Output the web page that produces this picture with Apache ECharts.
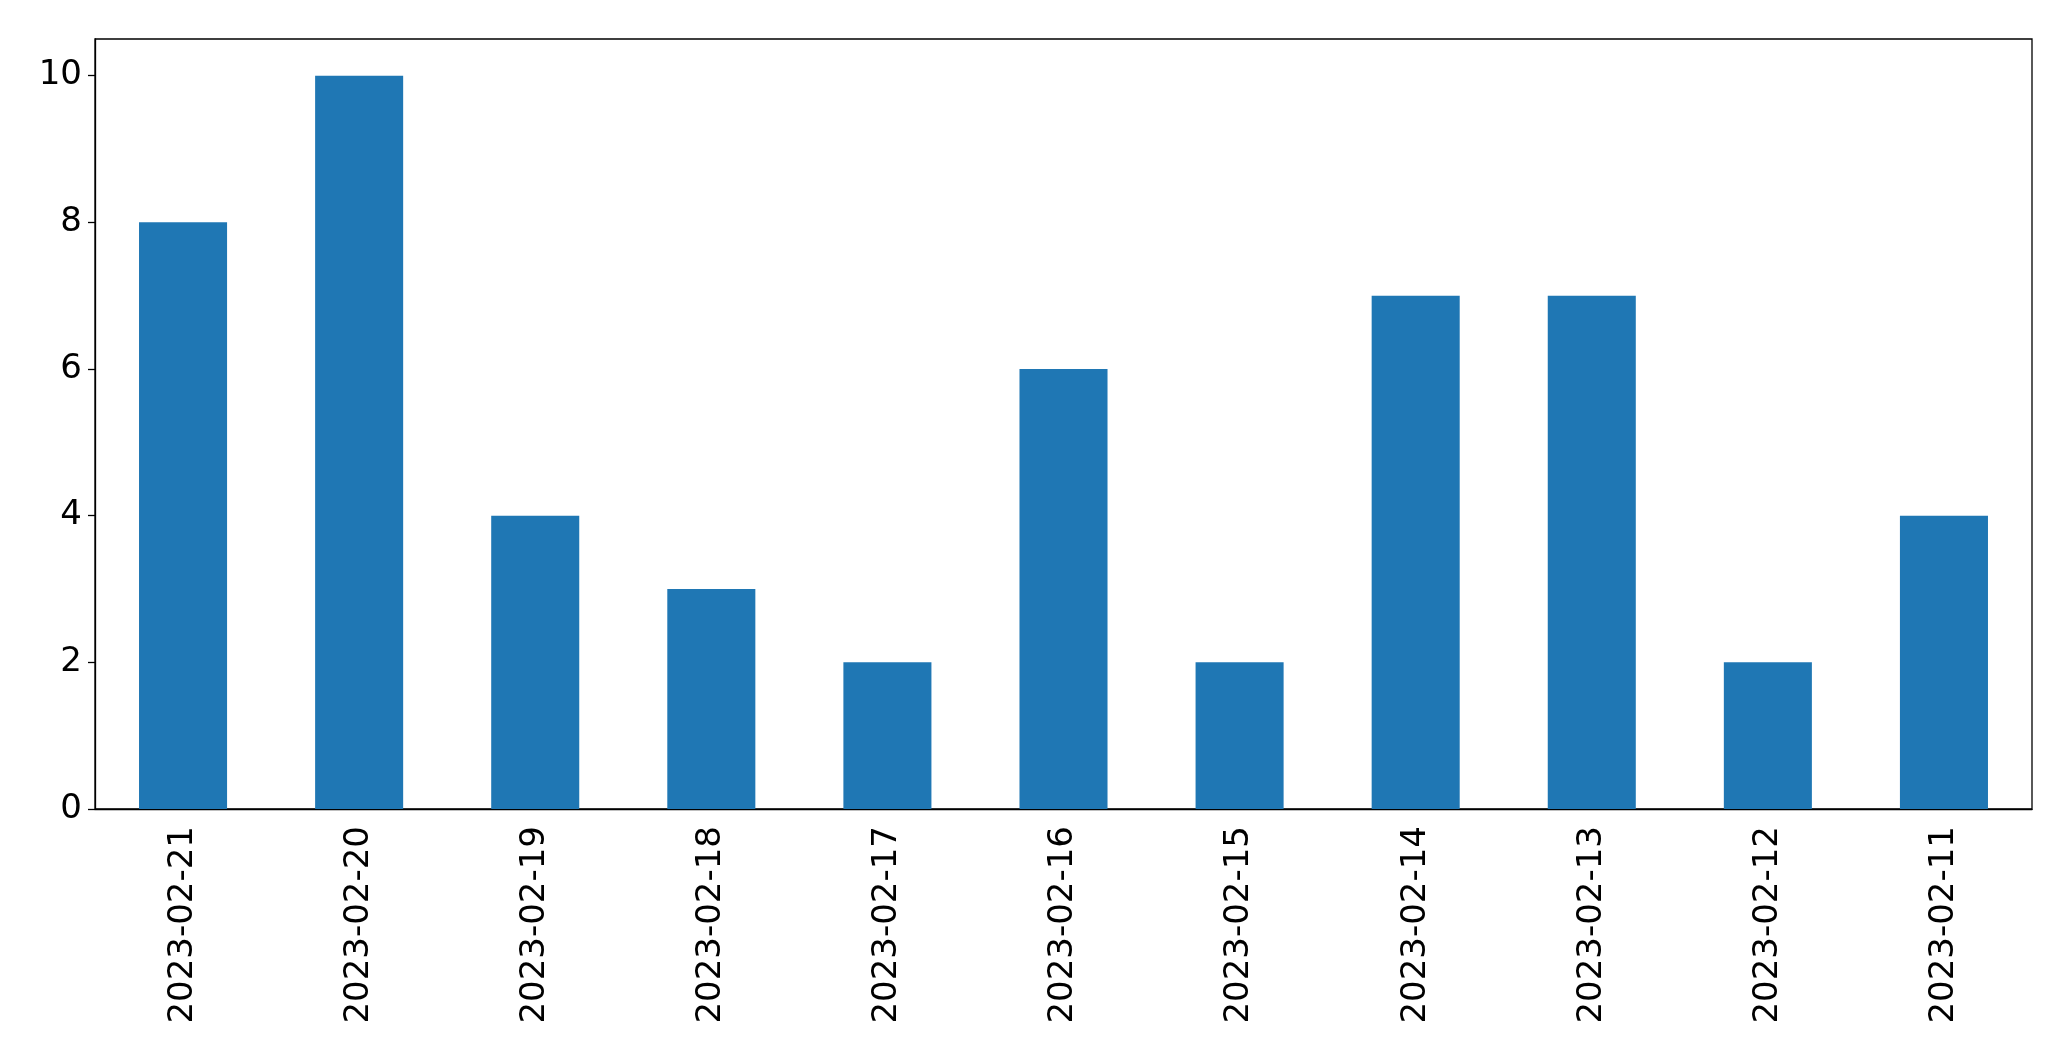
<!DOCTYPE html>
<html>
<head>
<meta charset="UTF-8">
<title>Chart</title>
<style>
  html, body { margin: 0; padding: 0; background: #fff; }
  #main { width: 2071px; height: 1061px; }
</style>
</head>
<body>
<div id="main"></div>
<script src="https://cdn.jsdelivr.net/npm/echarts@6/dist/echarts.min.js"></script>
<script>
var dates = ['2023-02-21', '2023-02-20', '2023-02-19', '2023-02-18', '2023-02-17', '2023-02-16',
             '2023-02-15', '2023-02-14', '2023-02-13', '2023-02-12', '2023-02-11'];
var counts = [8, 10, 4, 3, 2, 6, 2, 7, 7, 2, 4];
var yTicks = [0, 2, 4, 6, 8, 10];

var chart = echarts.init(document.getElementById('main'));
var font = 'DejaVu Sans';

chart.setOption({
  backgroundColor: '#fff',
  animation: false,
  grid: {
    left: 95, right: 39, top: 39, bottom: 252,
    show: true, borderColor: '#000', borderWidth: 1.3, backgroundColor: 'transparent'
  },
  xAxis: {
    type: 'category',
    data: dates,
    boundaryGap: true,
    axisLine: { lineStyle: { color: '#000', width: 1.3 } },
    axisTick: { alignWithLabel: true, length: 7, lineStyle: { color: '#000', width: 1.3 } },
    axisLabel: { rotate: 90, margin: 17, color: '#000', fontSize: 34, fontFamily: font, interval: 0 },
    splitLine: { show: false }
  },
  yAxis: {
    type: 'value',
    min: 0,
    max: 10.5,
    interval: 2,
    axisLine: { show: true, lineStyle: { color: '#000', width: 1.3 } },
    axisTick: { show: true, length: 7, customValues: yTicks, lineStyle: { color: '#000', width: 1.3 } },
    axisLabel: {
      margin: 13, color: '#000', fontSize: 34, fontFamily: font, customValues: yTicks
    },
    splitLine: { show: false }
  },
  series: [{
    type: 'bar',
    data: counts,
    barWidth: '50%',
    itemStyle: { color: '#1f77b4' }
  }]
});
</script>
</body>
</html>
